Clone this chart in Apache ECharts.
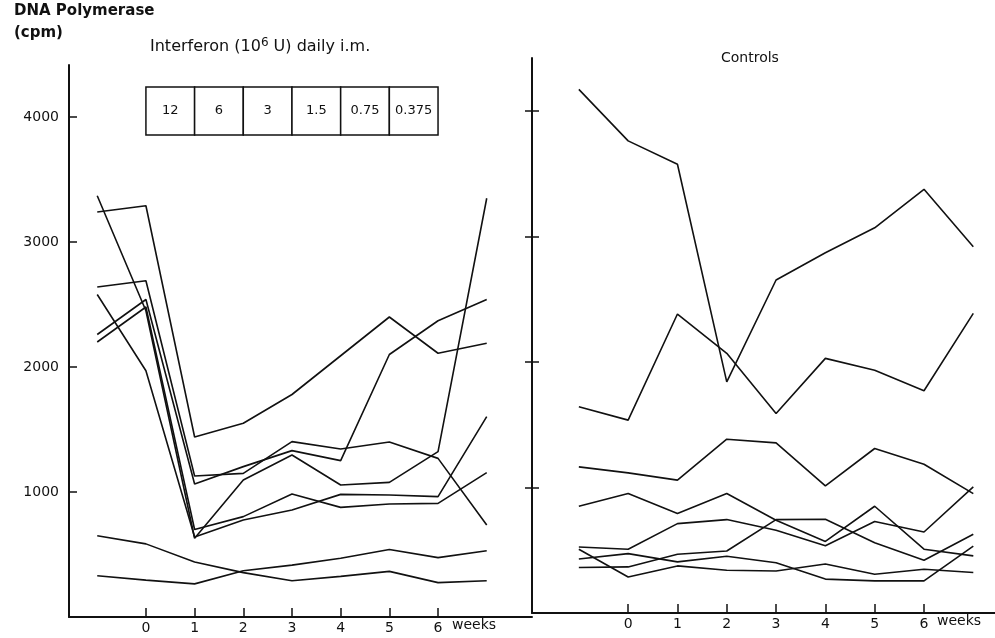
<!DOCTYPE html>
<html>
<head>
<meta charset="utf-8">
<script src="https://cdn.jsdelivr.net/npm/echarts@6/dist/echarts.min.js"></script>
<style>
  html, body { margin: 0; padding: 0; background: #fff; }
  #chart { width: 995px; height: 638px; }
</style>
</head>
<body>
<div id="chart"></div>
<script>
// Sampling weeks (week -1 is the pre-treatment baseline)
const weeks = [-1, 0, 1, 2, 3, 4, 5, 6, 7];
const weekTicks = [0, 1, 2, 3, 4, 5, 6];
const cpmTicks = [1000, 2000, 3000, 4000];

// Daily interferon dose (10^6 U) given during each week 0-1 ... 5-6
const doses = ['12', '6', '3', '1.5', '0.75', '0.375'];

// DNA polymerase activity (cpm), interferon-treated patients
const interferon1 = [3370, 2450, 630, 1096, 1296, 1056, 1077, 1323, 3350];
const interferon2 = [3240, 3290, 1440, 1550, 1780, 2090, 2400, 2110, 2190];
const interferon3 = [2640, 2690, 1128, 1149, 1403, 1344, 1400, 1269, 736];
const interferon4 = [2580, 1970, 640, 776, 856, 981, 976, 963, 1603];
const interferon5 = [2260, 2540, 1064, 1203, 1331, 1251, 2100, 2370, 2540];
const interferon6 = [2200, 2480, 700, 803, 984, 877, 904, 909, 1155];
const interferon7 = [650, 585, 440, 355, 290, 325, 365, 275, 290];
const interferon8 = [330, 295, 265, 370, 415, 470, 540, 475, 530];

// DNA polymerase activity (cpm), untreated controls
const control1 = [4170, 3760, 3574, 1841, 2652, 2869, 3068, 3374, 2917];
const control2 = [1642, 1536, 2381, 2068, 1589, 2028, 1934, 1770, 2386];
const control3 = [1164, 1116, 1058, 1384, 1355, 1012, 1310, 1185, 951];
const control4 = [850, 952, 792, 952, 739, 570, 850, 508, 455];
const control5 = [526, 508, 712, 744, 659, 535, 728, 645, 1004];
const control6 = [508, 287, 375, 340, 335, 390, 309, 349, 322];
const control7 = [430, 473, 407, 452, 400, 270, 256, 256, 532];
const control8 = [362, 367, 468, 494, 744, 747, 560, 420, 627];

const treated = [interferon1, interferon2, interferon3, interferon4,
                 interferon5, interferon6, interferon7, interferon8];
const controls = [control1, control2, control3, control4,
                  control5, control6, control7, control8];

const FONT = 'DejaVu Sans';
const INK = '#111';

const leftGrid = { left: 69, top: 65, width: 463, height: 552 };
const rightGrid = { left: 532, top: 58, width: 463, height: 555 };
const rightXMin = -1.95;
const rightXMax = 7.44;
// Inner half of the Controls axis ticks, ~7px expressed in weeks
const innerTickSpan = 7 * (rightXMax - rightXMin) / rightGrid.width;

function lineSeries(values, gridIdx) {
  return {
    type: 'line',
    xAxisIndex: gridIdx,
    yAxisIndex: gridIdx,
    data: weeks.map((w, i) => [w, values[i]]),
    showSymbol: false,
    symbol: 'none',
    silent: true,
    lineStyle: { color: INK, width: 1.6 },
    z: 3
  };
}

// Dose schedule boxes drawn as marked areas on the treated panel
const doseBox = {
  type: 'line',
  xAxisIndex: 0,
  yAxisIndex: 0,
  data: [],
  silent: true,
  markArea: {
    silent: true,
    itemStyle: { color: '#fff', borderColor: INK, borderWidth: 1.5 },
    label: {
      show: true,
      position: 'inside',
      color: INK,
      fontFamily: FONT,
      fontSize: 13
    },
    data: doses.map((d, i) => [
      { name: d, xAxis: i, yAxis: 3856 },
      { xAxis: i + 1, yAxis: 4240 }
    ])
  }
};

// Inner halves of the crossing ticks on the Controls y axis
const controlInnerTicks = {
  type: 'line',
  xAxisIndex: 1,
  yAxisIndex: 1,
  data: [],
  silent: true,
  markLine: {
    silent: true,
    symbol: ['none', 'none'],
    label: { show: false },
    lineStyle: { color: INK, width: 1.5, type: 'solid' },
    data: cpmTicks.map(v => [
      { coord: [rightXMin, v] },
      { coord: [rightXMin + innerTickSpan, v] }
    ])
  }
};

const baseX = {
  type: 'value',
  axisLine: { show: true, onZero: false, lineStyle: { color: INK, width: 2 } },
  axisTick: { show: true, inside: true, length: 9, customValues: weekTicks,
              lineStyle: { color: INK, width: 1.5 } },
  axisLabel: { show: true, customValues: weekTicks, color: INK, fontFamily: FONT,
               fontSize: 14, margin: 4 },
  splitLine: { show: false }
};

const baseY = {
  type: 'value',
  position: 'left',
  min: 0,
  axisLine: { show: true, onZero: false, lineStyle: { color: INK, width: 2 } },
  axisLabel: { show: false },
  splitLine: { show: false }
};

const chart = echarts.init(document.getElementById('chart'), null, { renderer: 'canvas' });

chart.setOption({
  animation: false,
  backgroundColor: '#fff',
  grid: [leftGrid, rightGrid],
  xAxis: [
    Object.assign({}, baseX, { gridIndex: 0, min: -1.58, max: 7.93 }),
    Object.assign({}, baseX, { gridIndex: 1, min: rightXMin, max: rightXMax })
  ],
  yAxis: [
    Object.assign({}, baseY, {
      gridIndex: 0, max: 4416,
      axisTick: { show: true, inside: true, length: 8, customValues: cpmTicks,
                  lineStyle: { color: INK, width: 1.5 } },
      axisLabel: { show: true, customValues: cpmTicks, color: INK, fontFamily: FONT,
                   fontSize: 14, margin: 10, formatter: v => String(v) }
    }),
    Object.assign({}, baseY, {
      gridIndex: 1, max: 4420,
      axisTick: { show: true, inside: false, length: 7, customValues: cpmTicks,
                  lineStyle: { color: INK, width: 1.5 } }
    })
  ],
  graphic: [
    { type: 'text', left: 14, top: 4,
      style: { text: 'DNA Polymerase', font: 'bold 15px "' + FONT + '"', fill: INK } },
    { type: 'text', left: 14, top: 26,
      style: { text: '(cpm)', font: 'bold 15px "' + FONT + '"', fill: INK } },
    { type: 'text', left: 150, top: 37,
      style: {
        text: '{a|Interferon (10}{s|6}{a| U) daily i.m.}',
        rich: {
          a: { fontFamily: FONT, fontSize: 16, fill: INK, verticalAlign: 'bottom' },
          s: { fontFamily: FONT, fontSize: 12, fill: INK, verticalAlign: 'top', padding: [0, 0, 6, 0] }
        }
      } },
    { type: 'text', left: 721, top: 51,
      style: { text: 'Controls', font: '14px "' + FONT + '"', fill: INK } },
    { type: 'text', left: 452, top: 618,
      style: { text: 'weeks', font: '14px "' + FONT + '"', fill: INK } },
    { type: 'text', left: 937, top: 614,
      style: { text: 'weeks', font: '14px "' + FONT + '"', fill: INK } }
  ],
  series: [doseBox, controlInnerTicks]
    .concat(treated.map(v => lineSeries(v, 0)))
    .concat(controls.map(v => lineSeries(v, 1)))
});
</script>
</body>
</html>
